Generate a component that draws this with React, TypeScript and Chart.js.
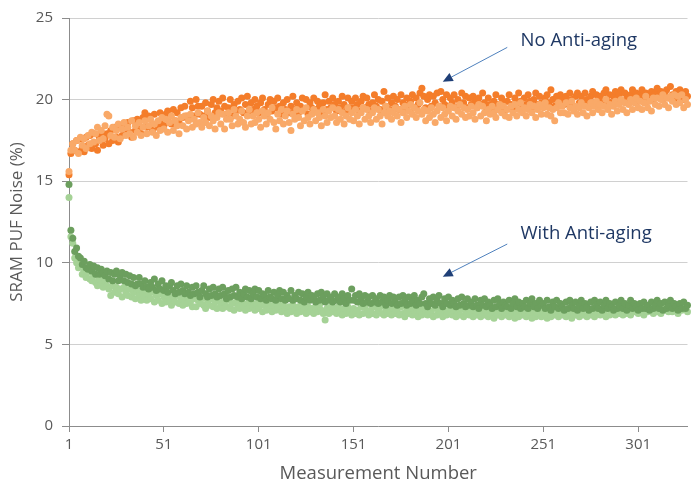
import React, { useEffect, useRef } from "react";
import { Chart, registerables } from "chart.js";

Chart.register(...registerables);

// Measurement index ticks
const xTickValues = [1, 51, 101, 151, 201, 251, 301];
const yTickValues = [0, 5, 10, 15, 20, 25];

// No Anti-aging, chip A (dark orange)
const noAgingA = [
  15.4, 16.7, 17.3, 16.9, 17.5, 16.8, 17.6, 17.1, 16.8, 17.7,
  17.2, 17.8, 17.0, 17.9, 17.3, 16.9, 17.7, 18.0, 17.2, 17.6,
  17.9, 17.3, 18.1, 17.5, 18.3, 17.7, 17.4, 18.4, 17.8, 18.5,
  17.9, 18.6, 18.0, 17.7, 18.7, 18.1, 18.8, 18.2, 17.9, 18.9,
  19.2, 18.3, 19.0, 18.4, 18.1, 19.1, 18.5, 18.3, 19.2, 18.6,
  18.4, 19.1, 19.3, 18.6, 18.5, 19.4, 18.7, 19.2, 18.6, 19.5,
  18.9, 19.6, 19.0, 18.8, 19.9, 19.5, 19.0, 20.0, 19.6, 19.1,
  19.6, 19.0, 19.8, 19.3, 18.9, 19.7, 20.0, 19.2, 19.5, 19.9,
  19.3, 20.1, 19.6, 19.1, 19.5, 20.0, 19.0, 19.7, 19.3, 19.9,
  19.4, 20.1, 19.2, 19.7, 20.2, 19.3, 19.8, 19.4, 20.0, 19.6,
  19.2, 19.8, 20.1, 19.4, 19.1, 19.7, 20.0, 19.3, 19.9, 19.5,
  20.1, 19.6, 19.1, 19.8, 19.4, 20.0, 19.2, 19.6, 20.2, 19.4,
  19.8, 19.2, 19.6, 20.1, 19.4, 20.0, 19.1, 19.8, 19.5, 20.1,
  19.4, 19.9, 19.6, 19.2, 19.8, 20.3, 19.4, 19.9, 19.5, 20.1,
  19.7, 19.3, 19.9, 19.5, 20.2, 19.7, 19.3, 20.1, 19.5, 19.9,
  19.5, 20.1, 19.7, 19.3, 19.9, 20.2, 19.5, 20.1, 19.7, 19.3,
  19.8, 20.3, 19.6, 20.0, 19.4, 19.9, 20.5, 19.6, 20.1, 19.4,
  19.8, 20.2, 19.6, 20.0, 19.4, 20.3, 19.8, 19.5, 20.1, 19.7,
  19.9, 20.3, 19.5, 20.1, 19.7, 20.4, 20.7, 20.2, 19.5, 20.0,
  20.3, 19.6, 20.2, 19.8, 20.4, 19.6, 20.5, 20.0, 19.7, 20.3,
  19.6, 20.1, 19.8, 20.3, 19.5, 20.0, 19.7, 20.4, 19.8, 20.2,
  19.5, 20.1, 19.7, 20.2, 19.9, 19.5, 20.1, 19.7, 20.4, 19.8,
  19.5, 20.1, 19.7, 19.4, 19.9, 20.3, 19.7, 19.5, 20.1, 19.8,
  19.4, 19.9, 20.3, 19.7, 19.5, 20.1, 19.8, 20.4, 19.9, 19.5,
  20.1, 19.7, 20.3, 19.9, 19.5, 20.0, 20.4, 19.7, 20.2, 19.8,
  19.7, 20.1, 20.3, 19.8, 20.6, 20.0, 19.6, 20.2, 19.8, 20.3,
  20.0, 19.7, 20.2, 19.8, 20.4, 20.0, 19.6, 20.2, 20.4, 19.8,
  20.2, 19.8, 20.4, 20.0, 19.7, 20.2, 20.5, 19.8, 20.3, 20.0,
  20.2, 19.8, 20.4, 20.6, 19.9, 20.3, 19.8, 20.2, 20.5, 20.0,
  20.3, 20.6, 19.9, 20.4, 20.1, 19.8, 20.3, 20.6, 20.1, 20.4,
  19.9, 20.3, 20.6, 20.0, 20.4, 19.9, 20.3, 20.5, 20.0, 20.4,
  20.7, 20.2, 20.5, 20.0, 20.4, 20.6, 20.1, 20.8, 20.3, 20.0,
  20.5, 20.2, 20.6, 20.3, 20.0, 20.5, 20.2,
];

// No Anti-aging, chip B (light orange)
const noAgingB = [
  15.6, 16.9, 17.3, 16.9, 17.5, 16.7, 17.7, 17.2, 17.6, 17.0,
  17.8, 17.3, 18.0, 17.4, 17.9, 18.3, 17.5, 18.1, 17.6, 18.4,
  19.1, 19.0, 17.8, 18.3, 17.7, 18.1, 18.5, 17.6, 18.2, 18.6,
  17.8, 18.3, 17.9, 18.7, 17.7, 18.4, 18.0, 18.6, 17.8, 18.3,
  18.7, 17.9, 18.4, 18.8, 18.0, 18.5, 17.8, 18.7, 18.1, 18.9,
  18.2, 18.8, 18.0, 18.6, 19.0, 18.1, 18.7, 18.4, 17.9, 18.9,
  18.4, 19.0, 18.2, 18.7, 19.1, 18.3, 18.8, 18.5, 19.2, 18.6,
  18.3, 18.9, 18.6, 19.3, 18.4, 19.0, 18.7, 18.2, 18.9, 19.2,
  18.5, 19.1, 18.2, 18.8, 19.2, 18.8, 18.4, 19.4, 19.0, 18.5,
  18.8, 19.3, 18.6, 18.3, 19.0, 19.4, 18.5, 19.0, 18.6, 19.2,
  18.8, 18.3, 19.3, 19.0, 18.5, 19.2, 18.8, 19.5, 18.6, 18.2,
  19.1, 18.7, 19.4, 18.5, 19.0, 19.3, 18.6, 18.1, 19.1, 18.8,
  19.4, 18.9, 18.4, 19.3, 18.7, 19.5, 18.9, 18.5, 19.1, 19.4,
  18.7, 19.2, 18.9, 18.4, 19.4, 19.0, 18.6, 19.3, 18.9, 19.5,
  19.0, 18.6, 19.4, 18.8, 19.2, 18.5, 19.0, 19.5, 18.8, 19.2,
  18.7, 19.4, 19.0, 18.5, 19.2, 19.5, 18.8, 19.4, 19.0, 18.6,
  19.2, 19.5, 18.8, 19.4, 19.0, 18.5, 19.2, 19.6, 19.0, 19.3,
  18.8, 19.2, 19.5, 19.0, 19.4, 18.6, 19.2, 19.6, 18.9, 19.3,
  19.7, 19.1, 19.5, 18.9, 19.3, 19.8, 19.1, 19.4, 18.7, 19.3,
  18.9, 19.5, 19.1, 18.6, 19.3, 19.6, 18.9, 19.5, 19.1, 18.7,
  19.3, 19.6, 19.0, 19.5, 18.8, 19.3, 19.7, 19.1, 19.5, 18.9,
  19.4, 19.0, 19.6, 19.2, 18.8, 19.5, 19.7, 19.0, 19.6, 19.2,
  18.7, 19.4, 19.1, 19.6, 19.2, 18.9, 19.4, 19.7, 19.2, 19.6,
  19.0, 19.4, 18.9, 19.6, 19.2, 19.7, 19.0, 19.4, 19.8, 19.2,
  19.5, 19.0, 19.4, 19.7, 19.2, 19.6, 18.9, 19.4, 19.7, 19.1,
  19.5, 19.8, 19.1, 19.5, 19.0, 19.4, 18.7, 19.5, 19.8, 19.2,
  19.6, 19.2, 19.8, 19.1, 19.5, 19.9, 19.3, 19.6, 19.1, 19.5,
  19.8, 19.2, 19.6, 19.0, 19.5, 19.8, 19.2, 19.6, 19.9, 19.4,
  19.7, 19.2, 19.6, 20.0, 19.4, 19.7, 19.1, 19.6, 19.9, 19.3,
  19.7, 20.0, 19.4, 19.8, 19.2, 19.7, 20.0, 19.4, 19.8, 20.1,
  19.5, 19.9, 19.4, 19.8, 20.2, 19.5, 19.9, 19.3, 20.1, 19.7,
  20.1, 19.6, 20.0, 20.3, 19.7, 20.1, 19.5, 20.2, 19.9, 20.3,
  19.7, 20.2, 19.8, 20.3, 19.5, 20.0, 19.7,
];

// With Anti-aging, chip A (dark green)
const antiAgingA = [
  14.8, 12.0, 11.5, 10.7, 10.9, 10.4, 10.3, 9.9, 10.1, 9.7,
  9.6, 9.9, 9.5, 9.8, 9.3, 9.7, 9.3, 9.6, 9.4, 9.2,
  9.5, 9.0, 9.4, 8.9, 9.3, 9.5, 8.9, 9.2, 9.4, 8.9,
  9.3, 8.8, 9.2, 8.7, 9.1, 8.6, 8.7, 9.1, 8.7, 8.5,
  8.9, 8.5, 8.4, 8.8, 8.5, 9.0, 8.3, 8.7, 8.4, 8.9,
  8.3, 8.6, 8.2, 8.6, 8.8, 8.3, 8.1, 8.6, 8.2, 8.7,
  8.3, 8.1, 8.6, 8.2, 8.0, 8.5, 8.1, 8.6, 8.2, 7.9,
  8.3, 8.6, 8.1, 7.9, 8.4, 8.0, 8.5, 8.1, 7.9, 8.4,
  8.0, 8.5, 8.1, 7.8, 8.3, 7.9, 8.4, 8.0, 8.5, 7.9,
  8.2, 7.8, 8.1, 8.4, 7.9, 8.3, 7.8, 8.1, 8.4, 7.9,
  8.3, 7.8, 8.1, 8.0, 7.7, 8.3, 7.9, 7.8, 8.2, 7.7,
  8.0, 8.3, 7.8, 8.2, 7.7, 8.0, 7.8, 8.3, 7.7, 8.0,
  7.8, 8.2, 7.7, 8.1, 7.6, 7.9, 8.2, 7.7, 8.0, 7.8,
  7.6, 8.1, 7.7, 8.2, 7.9, 7.6, 8.1, 7.7, 7.9, 7.6,
  8.1, 7.7, 7.9, 7.6, 8.1, 7.8, 7.5, 8.0, 7.7, 8.4,
  7.7, 8.0, 7.6, 8.1, 7.8, 7.5, 8.0, 7.6, 7.9, 7.5,
  8.0, 7.6, 7.8, 7.5, 8.0, 7.6, 7.9, 7.4, 7.7, 8.0,
  7.5, 7.9, 7.6, 7.4, 7.9, 7.5, 8.0, 7.7, 7.4, 7.9,
  7.5, 7.7, 8.0, 7.4, 7.7, 7.5, 7.9, 8.1, 7.5, 7.3,
  7.8, 7.5, 7.9, 7.4, 7.7, 8.0, 7.5, 7.3, 7.8, 7.5,
  7.9, 7.4, 7.7, 7.5, 7.3, 7.8, 7.4, 7.9, 7.5, 7.3,
  7.8, 7.4, 7.6, 7.3, 7.8, 7.4, 7.2, 7.7, 7.4, 7.8,
  7.3, 7.6, 7.4, 7.2, 7.7, 7.3, 7.8, 7.5, 7.2, 7.6,
  7.4, 7.3, 7.7, 7.2, 7.5, 7.8, 7.3, 7.6, 7.2, 7.5,
  7.3, 7.7, 7.2, 7.5, 7.8, 7.3, 7.5, 7.2, 7.7, 7.4,
  7.5, 7.2, 7.7, 7.3, 7.1, 7.6, 7.3, 7.7, 7.2, 7.5,
  7.3, 7.1, 7.6, 7.2, 7.7, 7.4, 7.2, 7.6, 7.1, 7.4,
  7.7, 7.2, 7.5, 7.3, 7.1, 7.6, 7.2, 7.7, 7.4, 7.2,
  7.6, 7.1, 7.4, 7.7, 7.2, 7.5, 7.3, 7.1, 7.6, 7.2,
  7.4, 7.7, 7.2, 7.5, 7.1, 7.4, 7.7, 7.2, 7.5, 7.3,
  7.1, 7.5, 7.2, 7.6, 7.2, 7.4, 7.1, 7.6, 7.2, 7.4,
  7.7, 7.2, 7.5, 7.1, 7.6, 7.2, 7.4, 7.7, 7.2, 7.5,
  7.3, 7.1, 7.5, 7.2, 7.6, 7.2, 7.4,
];

// With Anti-aging, chip B (light green)
const antiAgingB = [
  14.0, 11.6, 11.2, 10.3, 10.0, 9.7, 9.9, 9.3, 9.5, 9.1,
  9.4, 9.0, 8.9, 9.2, 8.8, 8.6, 9.0, 8.7, 8.5, 8.9,
  8.6, 8.4, 8.0, 8.6, 8.2, 8.5, 8.1, 8.4, 7.9, 8.5,
  8.2, 8.0, 8.4, 7.9, 8.2, 7.8, 8.3, 8.0, 7.7, 8.2,
  7.9, 7.7, 8.1, 7.8, 8.2, 7.6, 8.0, 7.7, 8.1, 7.5,
  7.9, 7.6, 8.0, 7.7, 7.4, 7.9, 7.6, 8.0, 7.5, 7.8,
  7.4, 7.8, 7.5, 7.9, 7.6, 7.3, 7.8, 7.3, 7.7, 7.5,
  7.8, 7.4, 7.2, 7.7, 7.4, 7.8, 7.3, 7.6, 7.2, 7.7,
  7.4, 7.2, 7.6, 7.3, 7.7, 7.2, 7.5, 7.1, 7.6, 7.3,
  7.2, 7.6, 7.3, 7.1, 7.5, 7.2, 7.6, 7.3, 7.1, 7.5,
  7.2, 7.5, 7.0, 7.4, 7.1, 7.5, 7.2, 7.0, 7.4, 7.1,
  7.5, 7.2, 7.0, 7.4, 7.1, 6.9, 7.3, 7.0, 7.4, 7.1,
  6.9, 7.3, 7.0, 7.4, 7.1, 6.9, 7.3, 7.0, 7.2, 6.9,
  7.3, 7.0, 7.4, 7.1, 6.9, 6.5, 7.2, 6.9, 7.3, 7.0,
  7.2, 6.9, 7.3, 7.0, 6.8, 7.2, 6.9, 7.3, 7.0, 6.8,
  7.2, 6.9, 7.1, 6.8, 7.3, 6.9, 7.3, 7.0, 6.8, 7.1,
  6.9, 7.3, 6.8, 7.1, 7.3, 6.9, 6.8, 7.2, 6.9, 7.1,
  6.8, 7.2, 6.9, 7.1, 6.8, 7.3, 6.9, 6.7, 7.1, 6.9,
  7.2, 6.8, 7.1, 6.9, 6.7, 7.1, 6.8, 7.2, 6.9, 6.8,
  7.1, 6.9, 6.7, 7.2, 6.8, 7.1, 6.9, 6.7, 7.1, 6.8,
  7.0, 7.2, 6.8, 7.1, 6.7, 7.0, 6.8, 7.2, 6.7, 7.0,
  7.2, 6.8, 7.0, 6.7, 7.1, 6.8, 7.0, 6.7, 7.1, 6.8,
  7.0, 6.7, 7.1, 6.8, 6.6, 7.0, 6.8, 7.2, 6.7, 7.0,
  6.8, 7.1, 6.7, 7.0, 6.8, 6.6, 7.0, 6.7, 7.1, 6.8,
  7.0, 6.7, 7.1, 6.8, 6.6, 7.0, 6.7, 6.9, 7.2, 6.7,
  7.0, 6.8, 6.6, 7.0, 6.7, 7.1, 6.8, 7.0, 6.7, 7.0,
  6.8, 7.1, 6.7, 7.0, 6.9, 6.6, 7.0, 6.8, 7.2, 6.7,
  7.0, 6.8, 7.2, 6.7, 7.0, 6.8, 7.1, 6.7, 7.0, 7.2,
  6.8, 7.1, 7.0, 6.7, 7.2, 6.8, 7.3, 7.0, 6.8, 7.1,
  6.9, 7.3, 6.8, 7.1, 6.9, 7.3, 6.8, 7.1, 7.0, 7.2,
  6.9, 7.3, 7.1, 6.8, 7.3, 7.0, 7.3, 7.1, 6.9, 7.2,
  7.0, 7.4, 6.9, 7.2, 7.1, 7.4, 7.0, 7.2, 7.0, 7.4,
  7.2, 6.9, 7.3, 7.1, 7.2, 7.4, 7.0,
];

// Callout labels (data coordinates)
const callouts = [
  { text: "No Anti-aging", textX: 239, textY: 23.3, fromX: 232, fromY: 23.2, toX: 198, toY: 21.1 },
  { text: "With Anti-aging", textX: 239, textY: 11.45, fromX: 232, fromY: 11.15, toX: 198, toY: 9.15 },
];

const toPoints = (arr: number[]) => arr.map((v, i) => ({ x: i + 1, y: v }));

const calloutPlugin = {
  id: "callouts",
  afterDatasetsDraw(chart: any) {
    const { ctx, scales } = chart;
    const xs = scales.x;
    const ys = scales.y;
    ctx.save();
    for (const c of callouts) {
      const fx = xs.getPixelForValue(c.fromX);
      const fy = ys.getPixelForValue(c.fromY);
      const tx = xs.getPixelForValue(c.toX);
      const ty = ys.getPixelForValue(c.toY);
      const ang = Math.atan2(ty - fy, tx - fx);
      const headLen = 10;
      const headW = 4.5;
      const bx = tx - headLen * Math.cos(ang);
      const by = ty - headLen * Math.sin(ang);
      ctx.strokeStyle = "#4F81BD";
      ctx.lineWidth = 1;
      ctx.beginPath();
      ctx.moveTo(fx, fy);
      ctx.lineTo(bx, by);
      ctx.stroke();
      ctx.fillStyle = "#1F3F77";
      ctx.beginPath();
      ctx.moveTo(tx, ty);
      ctx.lineTo(bx + headW * Math.sin(ang), by - headW * Math.cos(ang));
      ctx.lineTo(bx - headW * Math.sin(ang), by + headW * Math.cos(ang));
      ctx.closePath();
      ctx.fill();
      ctx.fillStyle = "#1F3864";
      ctx.font = "18.5px 'Open Sans', sans-serif";
      ctx.textAlign = "left";
      ctx.textBaseline = "alphabetic";
      ctx.fillText(c.text, xs.getPixelForValue(c.textX), ys.getPixelForValue(c.textY));
    }
    ctx.restore();
  },
};

export default function App() {
  const ref = useRef<HTMLCanvasElement | null>(null);

  useEffect(() => {
    if (!ref.current) return;
    Chart.defaults.font.family = "'Open Sans', sans-serif";
    const base = { showLine: false, pointRadius: 3.5, pointHoverRadius: 3.5, pointBorderWidth: 0, clip: false as any };
    const chart = new Chart(ref.current, {
      type: "scatter",
      data: {
        datasets: [
          { ...base, label: "No Anti-aging A", data: toPoints(noAgingA), backgroundColor: "#F47D2A", pointBorderColor: "#F47D2A", order: 3 },
          { ...base, label: "No Anti-aging B", data: toPoints(noAgingB), backgroundColor: "#F9A968", pointBorderColor: "#F9A968", order: 2 },
          { ...base, label: "With Anti-aging B", data: toPoints(antiAgingB), backgroundColor: "#A5D296", pointBorderColor: "#A5D296", order: 1 },
          { ...base, label: "With Anti-aging A", data: toPoints(antiAgingA), backgroundColor: "#6C9F5E", pointBorderColor: "#6C9F5E", order: 0 },
        ],
      },
      options: {
        responsive: false,
        animation: false,
        events: [],
        layout: { padding: { top: 16, right: 1, bottom: 0, left: 0 } },
        plugins: { legend: { display: false }, tooltip: { enabled: false } },
        scales: {
          x: {
            type: "linear",
            min: 1,
            max: 327,
            afterBuildTicks: (s: any) => {
              s.ticks = xTickValues.map((v) => ({ value: v }));
            },
            afterFit: (s: any) => {
              s.height = 60;
            },
            grid: { drawOnChartArea: false, tickLength: 6, tickColor: "#8C8C8C", tickWidth: 1 },
            border: { color: "#8C8C8C", width: 1 },
            ticks: { color: "#595959", font: { size: 15 }, padding: 4, maxRotation: 0, autoSkip: false },
            title: { display: true, text: "Measurement Number", color: "#595959", font: { size: 18.5 }, padding: { top: 0, bottom: 1 } },
          },
          y: {
            type: "linear",
            min: 0,
            max: 25,
            afterBuildTicks: (s: any) => {
              s.ticks = yTickValues.map((v) => ({ value: v }));
            },
            afterFit: (s: any) => {
              s.width = 69;
            },
            grid: { color: "#D0D0D0", tickLength: 7, tickColor: "#8C8C8C", lineWidth: 1 },
            border: { color: "#8C8C8C", width: 1 },
            ticks: { color: "#595959", font: { size: 15 }, padding: 9 },
            title: { display: true, text: "SRAM PUF Noise (%)", color: "#595959", font: { size: 17 }, padding: { top: 7, bottom: 0 } },
          },
        },
      },
      plugins: [calloutPlugin],
    });
    return () => chart.destroy();
  }, []);

  return (
    <div style={{ position: "absolute", left: 0, top: 0, width: 691, height: 486, background: "#fff" }}>
      <canvas ref={ref} width={691} height={486} style={{ display: "block" }} />
    </div>
  );
}
